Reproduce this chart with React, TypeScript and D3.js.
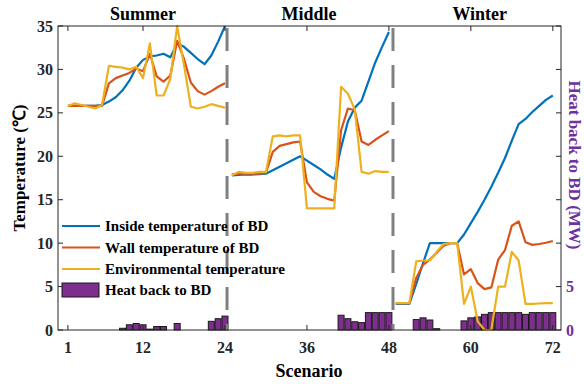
import React, { useRef, useEffect } from 'react';
import * as d3 from 'd3';

// scenario index 1..72
const scenarios: number[] = d3.range(1, 73);
// first scenario of each season block
const seasonStarts: number[] = [1, 25, 49];

const insideTemp: number[] = [
  25.8, 25.8, 25.8, 25.8, 25.8, 25.9, 26.3, 26.8, 27.6, 28.7, 30.2, 31.1, 31.5, 31.6, 31.8, 31.4, 33.0, 32.6, 31.9, 31.2, 30.6, 31.6, 33.2, 35.0,
  17.8, 17.85, 17.9, 17.9, 17.95, 18.0, 18.4, 18.8, 19.2, 19.6, 20.0, 19.5, 19.0, 18.5, 17.9, 17.4, 21.0, 24.0, 25.6, 26.4, 28.6, 30.8, 32.6, 34.3,
  3.0, 3.0, 3.0, 5.3, 7.7, 10.0, 10.0, 10.0, 10.0, 10.0, 11.0, 12.3, 13.6, 15.0, 16.5, 18.1, 19.8, 21.8, 23.7, 24.3, 25.1, 25.8, 26.5, 27.0,
];

const wallTemp: number[] = [
  25.8, 25.8, 25.8, 25.8, 25.8, 25.8, 28.4, 29.0, 29.3, 29.6, 30.1, 29.8, 31.8, 29.2, 28.6, 29.3, 33.3, 31.2, 28.5, 27.5, 27.1, 27.5, 28.0, 28.4,
  17.9, 18.0, 18.0, 18.0, 18.0, 18.1, 20.5, 21.2, 21.4, 21.6, 21.7, 17.0, 15.9, 15.4, 15.1, 14.9, 23.0, 25.5, 25.3, 21.7, 21.3, 21.9, 22.4, 22.9,
  3.1, 3.1, 3.1, 6.0, 7.5, 8.1, 8.9, 9.7, 10.0, 10.0, 6.4, 7.0, 5.4, 4.7, 4.9, 8.1, 9.2, 12.0, 12.5, 10.1, 9.8, 9.9, 10.05, 10.25,
];

const envTemp: number[] = [
  25.8, 26.1, 25.9, 25.7, 25.5, 25.9, 30.4, 30.3, 30.2, 30.0, 30.3, 29.0, 33.0, 27.0, 27.0, 28.9, 35.0, 30.5, 25.7, 25.5, 25.7, 26.0, 25.8, 25.6,
  17.8, 18.2, 18.1, 18.1, 18.2, 18.2, 22.3, 22.4, 22.3, 22.4, 22.4, 14.0, 14.0, 14.0, 14.0, 14.0, 28.0, 27.2, 25.4, 18.2, 18.0, 18.3, 18.2, 18.2,
  3.1, 3.1, 3.1, 7.9, 8.0, 8.0, 9.0, 9.9, 10.0, 10.0, 3.0, 5.0, 1.0, 0.0, 0.0, 5.0, 5.0, 9.0, 8.0, 3.0, 3.0, 3.05, 3.1, 3.1,
];

// heat back to BD (MW)
const heatBack: number[] = [
  0, 0, 0, 0, 0, 0, 0, 0, 0.2, 0.6, 0.75, 0.6, 0.1, 0.4, 0.4, 0, 0.75, 0, 0, 0, 0, 1.0, 1.3, 1.6,
  0, 0, 0, 0, 0, 0, 0, 0, 0, 0, 0, 0, 0, 0, 0, 0, 1.7, 1.3, 0.95, 0.85, 2.0, 2.0, 2.0, 2.0,
  0, 0, 0, 1.2, 1.4, 1.15, 0.15, 0, 0, 0, 1.05, 1.4, 1.5, 1.8, 2.0, 2.0, 2.0, 2.0, 2.0, 1.8, 2.0, 2.0, 2.0, 2.0,
];

const xTicks: number[] = [1, 12, 24, 36, 48, 60, 72];
const yTicks: number[] = [0, 5, 10, 15, 20, 25, 30, 35];
const rightTickLabels: string[] = ['0', '5', '', '', '', '', '', ''];
const seasonNames: string[] = ['Summer', 'Middle', 'Winter'];
const seasonCenters: number[] = [12, 36.3, 61.3];
const dividers: number[] = [24.3, 48.6];
const seriesNames: string[] = ['Inside temperature of BD', 'Wall temperature of BD', 'Environmental temperature', 'Heat back to BD'];

const colors = ['#0072BD', '#D95319', '#EDB120'];
const barColor = '#7E2F8E';
const purpleText = '#7030A0';
const axisColor = '#262626';
const font = '"Liberation Serif", "Times New Roman", serif';

const W = 584;
const H = 384;
const margin = { top: 26, right: 23, bottom: 54, left: 58 };

const App: React.FC = () => {
  const svgRef = useRef<SVGSVGElement | null>(null);

  useEffect(() => {
    const svg = d3.select(svgRef.current);
    svg.selectAll('*').remove();

    const x = d3.scaleLinear().domain([-0.45, 73.2]).range([margin.left, W - margin.right]);
    const y = d3.scaleLinear().domain([0, 35]).range([H - margin.bottom, margin.top]);
    const x0 = margin.left, x1 = W - margin.right, y0 = H - margin.bottom, y1 = margin.top;

    // bars
    const bw = x(0.88) - x(0);
    svg.append('g')
      .selectAll('rect')
      .data(scenarios.filter((_, i) => heatBack[i] > 0))
      .join('rect')
      .attr('x', (d) => x(d) - bw / 2)
      .attr('y', (d) => y(heatBack[d - 1]))
      .attr('width', bw)
      .attr('height', (d) => y(0) - y(heatBack[d - 1]))
      .attr('fill', barColor)
      .attr('stroke', '#1a1a1a')
      .attr('stroke-width', 1);

    // lines, one path per season block
    const series = [insideTemp, wallTemp, envTemp];
    const blocks = seasonStarts.map((s, i) =>
      scenarios.filter((d) => d >= s && (i === seasonStarts.length - 1 || d < seasonStarts[i + 1])));
    series.forEach((vals, k) => {
      const line = d3.line<number>()
        .x((d) => x(d))
        .y((d) => y(vals[d - 1]));
      blocks.forEach((b) => {
        svg.append('path')
          .datum(b)
          .attr('d', line)
          .attr('fill', 'none')
          .attr('stroke', colors[k])
          .attr('stroke-width', 2.2)
          .attr('stroke-linejoin', 'round');
      });
    });

    // dashed dividers
    dividers.forEach((d) => {
      svg.append('line')
        .attr('x1', x(d)).attr('x2', x(d))
        .attr('y1', y1).attr('y2', y0)
        .attr('stroke', '#808080')
        .attr('stroke-width', 3)
        .attr('stroke-dasharray', '23,14')
        .attr('stroke-dashoffset', 35);
    });

    // frame
    svg.append('rect')
      .attr('x', x0).attr('y', y1)
      .attr('width', x1 - x0).attr('height', y0 - y1)
      .attr('fill', 'none')
      .attr('stroke', axisColor)
      .attr('stroke-width', 1);

    const tl = 5;
    const ticks = svg.append('g').attr('stroke', axisColor).attr('stroke-width', 1);
    xTicks.forEach((t) => {
      ticks.append('line').attr('x1', x(t)).attr('x2', x(t)).attr('y1', y0).attr('y2', y0 - tl);
      ticks.append('line').attr('x1', x(t)).attr('x2', x(t)).attr('y1', y1).attr('y2', y1 + tl);
    });
    yTicks.forEach((t) => {
      ticks.append('line').attr('x1', x0).attr('x2', x0 + tl).attr('y1', y(t)).attr('y2', y(t));
      ticks.append('line').attr('x1', x1).attr('x2', x1 - tl).attr('y1', y(t)).attr('y2', y(t));
    });

    const txt = svg.append('g')
      .attr('font-family', font)
      .attr('font-weight', 'bold');

    xTicks.forEach((t) => {
      txt.append('text')
        .attr('x', x(t)).attr('y', y0 + 23)
        .attr('text-anchor', 'middle')
        .attr('font-size', 16)
        .attr('fill', axisColor)
        .text(t);
    });
    yTicks.forEach((t) => {
      txt.append('text')
        .attr('x', x0 - 5).attr('y', y(t) + 5.5)
        .attr('text-anchor', 'end')
        .attr('font-size', 16)
        .attr('fill', axisColor)
        .text(t);
    });
    yTicks.forEach((t, i) => {
      if (!rightTickLabels[i]) return;
      txt.append('text')
        .attr('x', x1 + 5).attr('y', y(t) + 5.5)
        .attr('text-anchor', 'start')
        .attr('font-size', 16)
        .attr('fill', purpleText)
        .text(rightTickLabels[i]);
    });

    // season titles
    seasonNames.forEach((s, i) => {
      txt.append('text')
        .attr('x', x(seasonCenters[i])).attr('y', 20)
        .attr('text-anchor', 'middle')
        .attr('font-size', 18)
        .attr('fill', '#000')
        .text(s);
    });

    // axis titles
    txt.append('text')
      .attr('x', x(36.3)).attr('y', 377)
      .attr('text-anchor', 'middle')
      .attr('font-size', 18)
      .attr('fill', '#000')
      .text('Scenario');
    txt.append('text')
      .attr('transform', 'translate(25,168) rotate(-90)')
      .attr('text-anchor', 'middle')
      .attr('font-size', 17)
      .attr('fill', '#000')
      .text('Temperature (℃)');
    txt.append('text')
      .attr('transform', `translate(569,165) rotate(90)`)
      .attr('text-anchor', 'middle')
      .attr('font-size', 17)
      .attr('fill', purpleText)
      .text('Heat back to BD (MW)');

    // legend
    const lg = svg.append('g');
    const rowY = [226, 247.5, 269, 290];
    seriesNames.forEach((name, i) => {
      if (i < 3) {
        lg.append('line')
          .attr('x1', 62).attr('x2', 100)
          .attr('y1', rowY[i]).attr('y2', rowY[i])
          .attr('stroke', colors[i])
          .attr('stroke-width', 2.2);
      } else {
        lg.append('rect')
          .attr('x', 62).attr('y', rowY[i] - 7)
          .attr('width', 37).attr('height', 14)
          .attr('fill', barColor)
          .attr('stroke', '#1a1a1a')
          .attr('stroke-width', 1);
      }
      lg.append('text')
        .attr('x', 105).attr('y', rowY[i] + 5)
        .attr('font-family', font)
        .attr('font-weight', 'bold')
        .attr('font-size', 15)
        .attr('fill', '#000')
        .text(name);
    });
  }, []);

  return (
    <div style={{ position: 'absolute', left: 0, top: 0, background: '#fff' }}>
      <svg ref={svgRef} width={W} height={H} style={{ display: 'block' }}></svg>
    </div>
  );
};

export default App;
